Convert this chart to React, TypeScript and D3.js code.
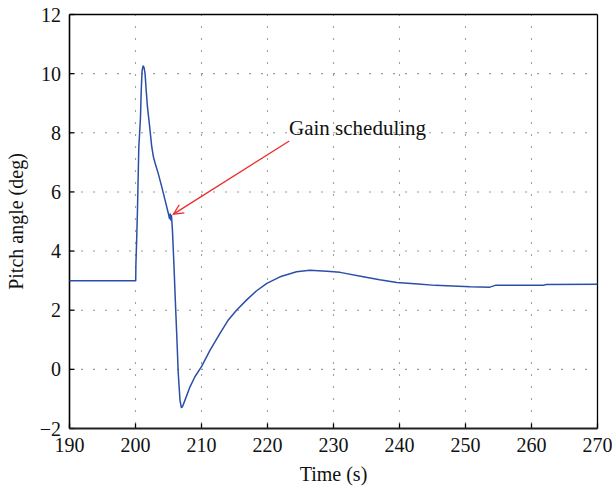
import React from "react";
import * as d3 from "d3";

const timeValues: number[] = [
  190, 200.0, 200.03, 200.06, 200.18, 200.3, 200.5, 200.75, 200.88, 201.0, 201.15, 201.3, 201.45,
  201.6, 201.8, 202.1, 202.45, 202.7, 203.0, 203.45, 203.97, 204.47, 204.97, 205.15, 205.25,
  205.35, 205.45, 205.6, 205.83, 206.03, 206.24, 206.48, 206.74, 206.95, 207.1, 207.5, 208.26,
  209.0, 210.0, 211.3, 212.8, 214.0, 215.3, 216.85, 218.3, 219.9, 221.9, 224.4, 226.4, 229.0,
  231.0, 234.5, 237.0, 239.6, 242.85, 245.4, 250.7, 253.7, 254.5, 261.8, 262.2, 270,
];
const pitchValues: number[] = [
  3.0, 3.0, 3.0, 3.55, 4.4, 5.4, 7.5, 8.5, 9.5, 10.1, 10.26, 10.2, 10.0,
  9.5, 8.9, 8.3, 7.55, 7.2, 6.95, 6.62, 6.18, 5.73, 5.28, 5.1, 5.25,
  5.05, 5.2, 4.7, 3.5, 2.35, 1.22, -0.14, -1.04, -1.29, -1.27, -1.04, -0.59,
  -0.25, 0.09, 0.65, 1.22, 1.65, 2.0, 2.35, 2.65, 2.91, 3.13, 3.3, 3.35, 3.32,
  3.28, 3.13, 3.03, 2.94, 2.89, 2.84, 2.79, 2.78, 2.84, 2.84, 2.87, 2.88,
];
const xTicks: number[] = [190, 200, 210, 220, 230, 240, 250, 260, 270];
const yTicks: number[] = [-2, 0, 2, 4, 6, 8, 10, 12];
const annotationText = "Gain scheduling";
const annotationFrom: [number, number] = [223.3, 7.72];
const annotationTo: [number, number] = [205.75, 5.25];

export default function App() {
  const W = 612, H = 488;
  const L = 69.5, R = 597.5, T = 14.5, B = 428.5;
  const x = d3.scaleLinear().domain([190, 270]).range([L, R]);
  const y = d3.scaleLinear().domain([-2, 12]).range([B, T]);
  const data = timeValues.map((t, i) => [t, pitchValues[i]] as [number, number]);
  const line = d3.line<[number, number]>().x(d => x(d[0])).y(d => y(d[1]));
  const font = "'Liberation Serif', 'Times New Roman', serif";

  const x1 = x(annotationFrom[0]), y1 = y(annotationFrom[1]);
  const x2 = x(annotationTo[0]), y2 = y(annotationTo[1]);
  const ang = Math.atan2(y2 - y1, x2 - x1);
  const hl = 11, ha = 0.45;
  const h1 = [x2 - hl * Math.cos(ang - ha), y2 - hl * Math.sin(ang - ha)];
  const h2 = [x2 - hl * Math.cos(ang + ha), y2 - hl * Math.sin(ang + ha)];

  return (
    <svg width={W} height={H} style={{ position: "absolute", left: 0, top: 0, background: "#fff" }}>
      <rect x={0} y={0} width={W} height={H} fill="#fff" />
      {/* grid */}
      {xTicks.filter(t => t > 190 && t < 270).map(t => (
        <line key={"gx" + t} x1={x(t)} x2={x(t)} y1={T} y2={B} stroke="#444" strokeWidth={1.1} strokeDasharray="1.1,10.9" />
      ))}
      {yTicks.filter(t => t > -2 && t < 12).map(t => (
        <line key={"gy" + t} x1={L} x2={R} y1={y(t)} y2={y(t)} stroke="#444" strokeWidth={1.1} strokeDasharray="1.1,10.9" />
      ))}
      {/* ticks */}
      {xTicks.map(t => (
        <g key={"tx" + t}>
          <line x1={x(t)} x2={x(t)} y1={B} y2={B - 5} stroke="#000" strokeWidth={1.3} />
          <text x={x(t)} y={B + 23} textAnchor="middle" fontFamily={font} fontSize={20} fill="#111">{t}</text>
        </g>
      ))}
      {yTicks.map(t => (
        <g key={"ty" + t}>
          <line x1={L} x2={L + 5} y1={y(t)} y2={y(t)} stroke="#000" strokeWidth={1.3} />
          <text x={61} y={y(t)} dy="0.35em" textAnchor="end" fontFamily={font} fontSize={20} fill="#111">
            {t < 0 ? "\u2212" + Math.abs(t) : t}
          </text>
        </g>
      ))}
      {/* frame */}
      <line x1={L} x2={R} y1={T} y2={T} stroke="#000" strokeWidth={1.3} />
      <line x1={R} x2={R} y1={T} y2={B} stroke="#000" strokeWidth={1.3} />
      <line x1={L} x2={L} y1={T} y2={B} stroke="#000" strokeWidth={1.6} />
      <line x1={L} x2={R} y1={B} y2={B} stroke="#222" strokeWidth={1.8} />
      {/* data line */}
      <path d={line(data) || ""} fill="none" stroke="#2b4fa8" strokeWidth={1.5} strokeLinejoin="round" />
      {/* annotation */}
      <line x1={x1} y1={y1} x2={x2} y2={y2} stroke="#ee2a2a" strokeWidth={1.3} />
      <polyline points={`${h1[0]},${h1[1]} ${x2},${y2} ${h2[0]},${h2[1]}`} fill="none" stroke="#ee2a2a" strokeWidth={1.3} />
      <text x={289} y={135} fontFamily={font} fontSize={21} fill="#111">{annotationText}</text>
      {/* axis labels */}
      <text x={(L + R) / 2} y={481} textAnchor="middle" fontFamily={font} fontSize={20} fill="#111">Time (s)</text>
      <text transform={`translate(23,${(T + B) / 2}) rotate(-90)`} textAnchor="middle" fontFamily={font} fontSize={20} fill="#111">Pitch angle (deg)</text>
    </svg>
  );
}
